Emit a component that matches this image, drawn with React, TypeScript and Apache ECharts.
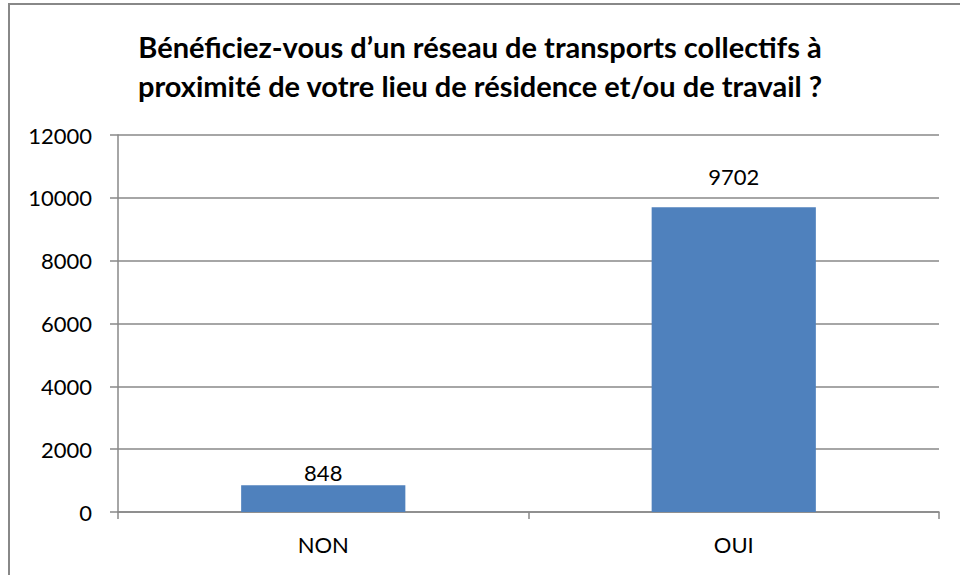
import React, { useEffect, useRef } from "react";
import * as echarts from "echarts";

const titleLines = [
  "Bénéficiez-vous d’un réseau de transports collectifs à",
  "proximité de votre lieu de résidence et/ou de travail ?",
];
const categories = ["NON", "OUI"];
const values = [848, 9702];
const yMin = 0;
const yMax = 12000;
const yStep = 2000;

const FONT = "Lato";
const GRAY = "#888888";

export default function App() {
  const ref = useRef<HTMLDivElement>(null);
  useEffect(() => {
    if (!ref.current) return;
    const chart = echarts.init(ref.current, null, { renderer: "svg" });
    const labelDistances = [2, 20];
    chart.setOption({
      animation: false,
      backgroundColor: "#ffffff",
      title: {
        text: titleLines.join("\n"),
        left: "center",
        top: 22,
        padding: 5,
        textStyle: {
          fontFamily: FONT,
          fontWeight: "bold",
          fontSize: 29,
          lineHeight: 39,
          color: "#000000",
        },
      },
      graphic: [
        {
          type: "rect",
          shape: { x: 9, y: 4, width: 1000, height: 1000 },
          style: { fill: "none", stroke: GRAY, lineWidth: 2 },
          silent: true,
        },
      ],
      grid: { left: 118, right: 21, top: 135, bottom: 63, containLabel: false },
      xAxis: {
        type: "category",
        data: categories,
        axisLine: { show: true, lineStyle: { color: GRAY, width: 1.5 } },
        axisTick: { show: true, length: 7, alignWithLabel: false, lineStyle: { color: GRAY, width: 1.5 } },
        axisLabel: { fontFamily: FONT, fontSize: 22, color: "#000", margin: 21 },
      },
      yAxis: {
        type: "value",
        min: yMin,
        max: yMax,
        interval: yStep,
        axisLine: { show: true, lineStyle: { color: GRAY, width: 1.5 } },
        axisTick: { show: true, length: 8, lineStyle: { color: GRAY, width: 1.5 } },
        splitLine: { show: true, lineStyle: { color: GRAY, width: 1.5 } },
        axisLabel: {
          fontFamily: FONT,
          fontSize: 22,
          color: "#000",
          margin: 26,
          formatter: (v: number) => String(v),
        },
      },
      series: [
        {
          type: "bar",
          barWidth: "40%",
          data: values.map((v, i) => ({
            value: v,
            label: { distance: labelDistances[i] },
          })),
          itemStyle: { color: "#4F81BD" },
          label: {
            show: true,
            position: "top",
            fontFamily: FONT,
            fontSize: 22,
            color: "#000",
          },
        },
      ],
    });
    return () => chart.dispose();
  }, []);
  return (
    <div
      ref={ref}
      style={{ position: "absolute", left: 0, top: 0, width: 960, height: 575 }}
    />
  );
}
